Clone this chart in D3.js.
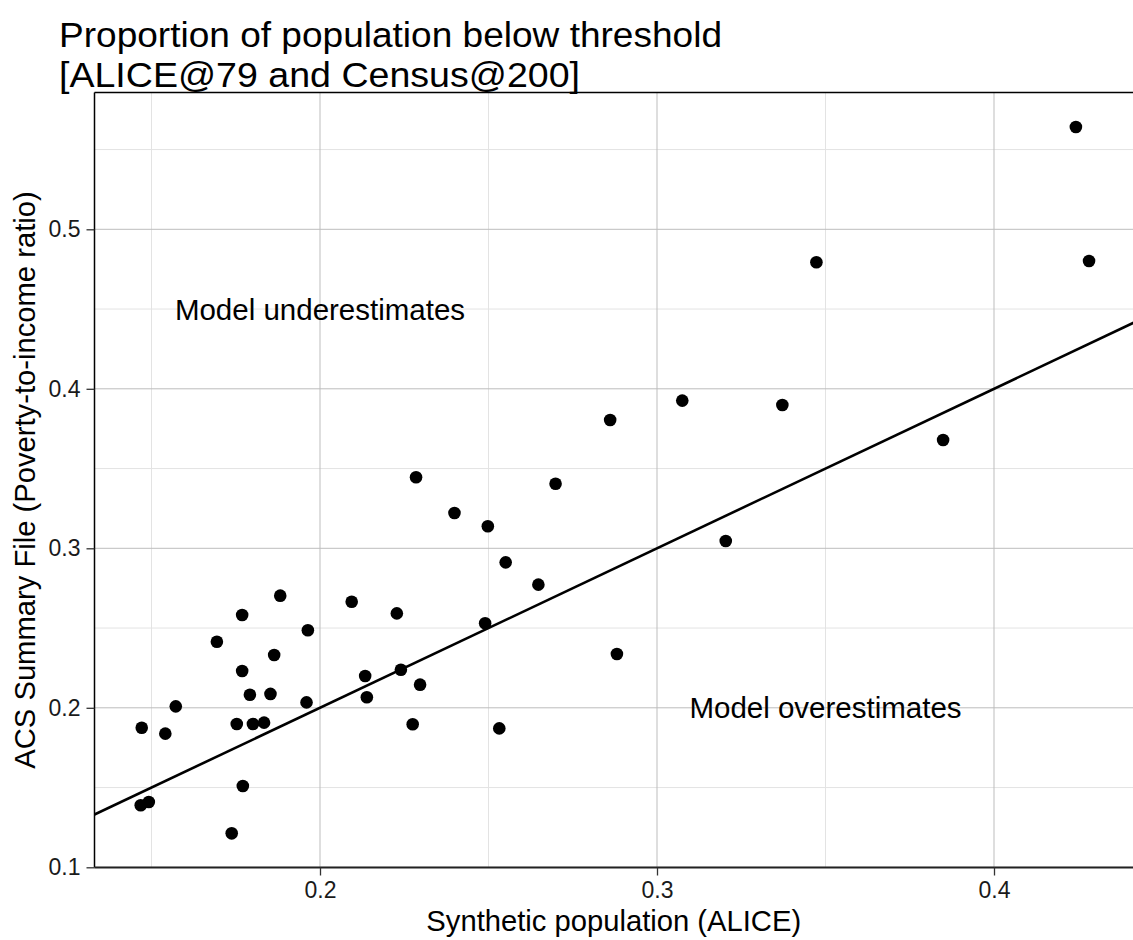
<!DOCTYPE html>
<html>
<head>
<meta charset="utf-8">
<script src="https://cdn.jsdelivr.net/npm/d3@7"></script>
<style>
  html, body { margin: 0; padding: 0; background: #fff; }
  svg { display: block; font-family: "Liberation Sans", Arial, Helvetica, sans-serif; }
</style>
</head>
<body>
<svg id="chart" width="1133" height="940"></svg>
<script>
// ---- Data ----
const alice = [
  0.1882, 0.1769, 0.1964, 0.1694, 0.1864, 0.1769, 0.1792, 0.1853, 0.1960, 0.1572,
  0.1471, 0.1541, 0.1753, 0.1801, 0.1834, 0.1771, 0.1468, 0.1492, 0.1738,
  0.2285, 0.2399, 0.2498, 0.2551, 0.2094, 0.2228, 0.2490, 0.2134, 0.2240, 0.2297,
  0.2139, 0.2275, 0.2532,
  0.3075, 0.3372, 0.2861, 0.2699, 0.3204, 0.2648, 0.2881,
  0.4243, 0.4282, 0.3473, 0.3849
];
const census = [
  0.2703, 0.2582, 0.2486, 0.2414, 0.2331, 0.2231, 0.2082, 0.2087, 0.2034, 0.2009,
  0.1875, 0.1838, 0.1898, 0.1898, 0.1907, 0.1510, 0.1389, 0.1409, 0.1213,
  0.3445, 0.3221, 0.3138, 0.2912, 0.2665, 0.2592, 0.2530, 0.2199, 0.2239, 0.2145,
  0.2066, 0.1897, 0.1871,
  0.3926, 0.3898, 0.3804, 0.3405, 0.3046, 0.2772, 0.2337,
  0.5641, 0.4801, 0.4793, 0.3679
];
const xTicks = [0.2, 0.3, 0.4];
const xMinor = [0.15, 0.25, 0.35, 0.45];
const yTicks = [0.1, 0.2, 0.3, 0.4, 0.5];
const yMinor = [0.15, 0.25, 0.35, 0.45, 0.55];
const titleLines = ["Proportion of population below threshold", "[ALICE@79 and Census@200]"];
const xLabel = "Synthetic population (ALICE)";
const yLabel = "ACS Summary File (Poverty-to-income ratio)";
const annotations = [
  {text: "Model underestimates", x: 0.2, y: 0.45},
  {text: "Model overestimates", x: 0.35, y: 0.2}
];

// ---- Layout ----
const panel = {left: 94.5, top: 92.5, right: 1160, bottom: 867.5};
const x = d3.scaleLinear().domain([0.2, 0.4]).range([320, 994]);
const y = d3.scaleLinear().domain([0.1, 0.5]).range([867.3, 229.3]);

const svg = d3.select("#chart");

svg.append("defs").append("clipPath").attr("id", "clip")
  .append("rect")
  .attr("x", panel.left).attr("y", panel.top)
  .attr("width", panel.right - panel.left).attr("height", panel.bottom - panel.top);

const g = svg.append("g").attr("clip-path", "url(#clip)");

// minor grid
g.selectAll(".xminor").data(xMinor).join("line")
  .attr("x1", d => x(d)).attr("x2", d => x(d))
  .attr("y1", panel.top).attr("y2", panel.bottom)
  .attr("stroke", "#e3e3e3").attr("stroke-width", 1);
g.selectAll(".yminor").data(yMinor).join("line")
  .attr("y1", d => y(d)).attr("y2", d => y(d))
  .attr("x1", panel.left).attr("x2", panel.right)
  .attr("stroke", "#e3e3e3").attr("stroke-width", 1);
// major grid
g.selectAll(".xmajor").data(xTicks).join("line")
  .attr("x1", d => x(d)).attr("x2", d => x(d))
  .attr("y1", panel.top).attr("y2", panel.bottom)
  .attr("stroke", "#bdbdbd").attr("stroke-width", 1);
g.selectAll(".ymajor").data(yTicks).join("line")
  .attr("y1", d => y(d)).attr("y2", d => y(d))
  .attr("x1", panel.left).attr("x2", panel.right)
  .attr("stroke", "#bdbdbd").attr("stroke-width", 1);

// y = x reference line
const x0 = x.invert(panel.left), x1 = x.invert(panel.right);
g.append("line")
  .attr("x1", x(x0)).attr("y1", y(x0))
  .attr("x2", x(x1)).attr("y2", y(x1))
  .attr("stroke", "#000").attr("stroke-width", 2.6);

// points
g.selectAll("circle").data(alice.map((a, i) => [a, census[i]])).join("circle")
  .attr("cx", d => x(d[0])).attr("cy", d => y(d[1]))
  .attr("r", 6.3).attr("fill", "#000");

// annotations
g.selectAll(".anno").data(annotations).join("text")
  .attr("x", d => x(d.x)).attr("y", d => y(d.y))
  .attr("text-anchor", "middle").attr("dominant-baseline", "central")
  .attr("font-size", 29.5).attr("fill", "#000")
  .text(d => d.text);

// panel border (top/left) and axis line
svg.append("line").attr("x1", panel.left).attr("x2", panel.right)
  .attr("y1", panel.top).attr("y2", panel.top).attr("stroke", "#000").attr("stroke-width", 1.5);
svg.append("line").attr("x1", panel.left).attr("x2", panel.left)
  .attr("y1", panel.top).attr("y2", panel.bottom).attr("stroke", "#000").attr("stroke-width", 1.5);
svg.append("line").attr("x1", panel.left).attr("x2", panel.right)
  .attr("y1", panel.bottom).attr("y2", panel.bottom).attr("stroke", "#222").attr("stroke-width", 2);

// axes
const xAxis = d3.axisBottom(x).tickValues(xTicks).tickSize(8).tickPadding(6)
  .tickFormat(d3.format(".1f"));
const gx = svg.append("g").attr("transform", `translate(0,${panel.bottom})`).call(xAxis);
gx.select(".domain").remove();
gx.selectAll(".tick line").attr("stroke", "#333").attr("stroke-width", 1.3);
gx.selectAll(".tick text").attr("font-size", 23).attr("fill", "#1a1a1a")
  .attr("font-family", "Liberation Sans, Arial, sans-serif");

const yAxis = d3.axisLeft(y).tickValues(yTicks).tickSize(8).tickPadding(6)
  .tickFormat(d3.format(".1f"));
const gy = svg.append("g").attr("transform", `translate(${panel.left},0)`).call(yAxis);
gy.select(".domain").remove();
gy.selectAll(".tick line").attr("stroke", "#333").attr("stroke-width", 1.3);
gy.selectAll(".tick text").attr("font-size", 23).attr("fill", "#1a1a1a")
  .attr("font-family", "Liberation Sans, Arial, sans-serif");

// axis titles
svg.append("text").attr("x", (panel.left + 1133) / 2).attr("y", 931)
  .attr("text-anchor", "middle").attr("font-size", 29.2).attr("fill", "#000")
  .text(xLabel);
svg.append("text")
  .attr("transform", `translate(35,${(panel.top + panel.bottom) / 2}) rotate(-90)`)
  .attr("text-anchor", "middle").attr("font-size", 29.2).attr("fill", "#000")
  .text(yLabel);

// title (two lines, widths matched to the reference)
const titleWidths = [663, 521];
svg.append("g").selectAll("text").data(titleLines).join("text")
  .attr("x", 59).attr("y", (d, i) => 47 + i * 39.8)
  .attr("font-size", 35.5).attr("fill", "#000")
  .attr("textLength", (d, i) => titleWidths[i])
  .attr("lengthAdjust", "spacingAndGlyphs")
  .text(d => d);
</script>
</body>
</html>
